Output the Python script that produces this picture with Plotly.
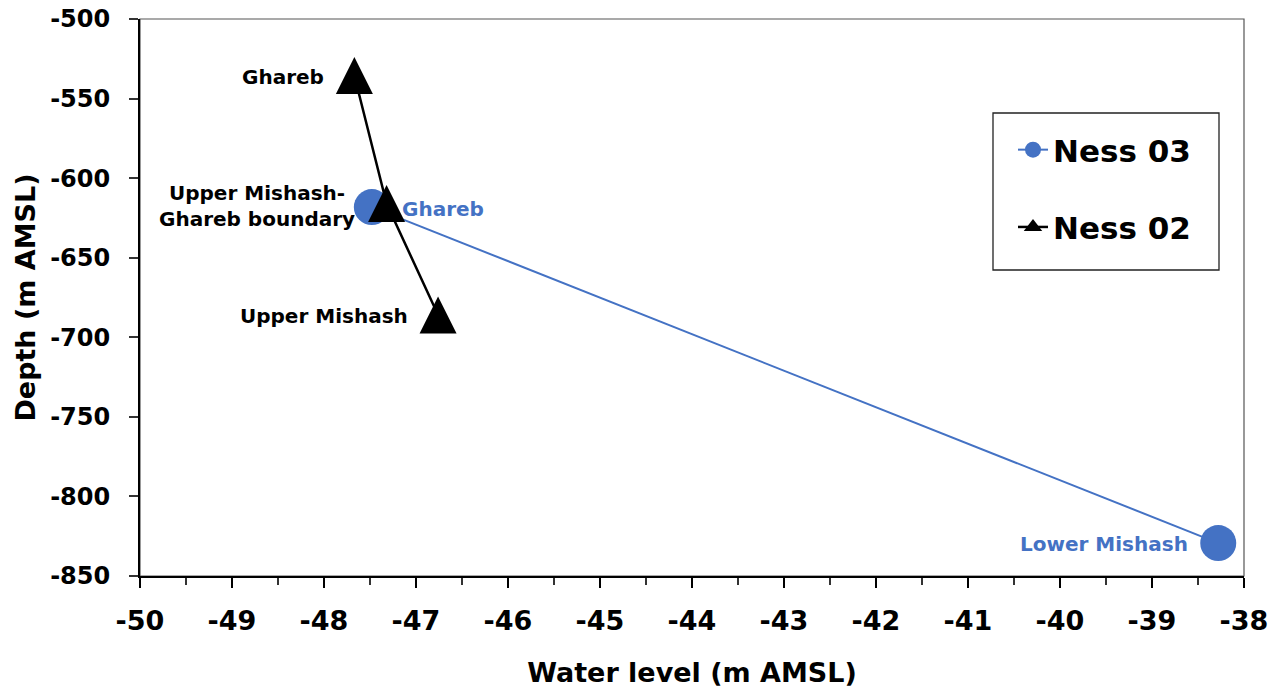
import plotly.graph_objects as go

# Ness 03 data
ness03_level = [-47.48, -38.28]
ness03_depth = [-618.2, -829.3]
ness03_labels = ["Ghareb", "Lower Mishash"]

# Ness 02 data
ness02_level = [-47.67, -47.32, -46.76]
ness02_depth = [-535.5, -616.0, -686.0]
ness02_labels = ["Ghareb", "Upper Mishash-<br>Ghareb boundary", "Upper Mishash"]

# Axis ticks
x_ticks = [-50, -49, -48, -47, -46, -45, -44, -43, -42, -41, -40, -39, -38]
x_ticktext = ["-50", "-49", "-48", "-47", "-46", "-45", "-44", "-43", "-42", "-41", "-40", "-39", "-38"]
y_ticks = [-500, -550, -600, -650, -700, -750, -800, -850]
y_ticktext = ["-500", "-550", "-600", "-650", "-700", "-750", "-800", "-850"]

BLUE = "#4472C4"
FONT = "DejaVu Sans"
TRI = 37

fig = go.Figure()
fig.add_trace(go.Scatter(
    x=ness03_level, y=ness03_depth, mode="lines+markers", name="Ness 03",
    line=dict(color=BLUE, width=2, backoff=0),
    marker=dict(symbol="circle", size=36, color=BLUE),
    legendgroup="a",
))
fig.add_trace(go.Scatter(
    x=ness02_level, y=ness02_depth, mode="lines+markers", name="Ness 02",
    line=dict(color="black", width=2.5, backoff=0),
    marker=dict(symbol="arrow-down", angle=180, size=TRI, color="black", standoff=TRI / 2),
    legendgroup="b", showlegend=False,
))
# legend-only entry for Ness 02 (centered triangle symbol)
fig.add_trace(go.Scatter(
    x=[None], y=[None], mode="lines+markers", name="Ness 02",
    line=dict(color="black", width=2.5),
    marker=dict(symbol="triangle-up", size=16, color="black"),
    legendgroup="b", hoverinfo="skip",
))

annots = []
# Ness 03 labels
annots.append(dict(x=ness03_level[0], y=ness03_depth[0], text=ness03_labels[0],
                   xanchor="left", yanchor="middle", xshift=28, yshift=-2,
                   font=dict(color=BLUE)))
annots.append(dict(x=ness03_level[1], y=ness03_depth[1], text=ness03_labels[1],
                   xanchor="right", yanchor="middle", xshift=-28, yshift=-1,
                   font=dict(color=BLUE)))
# Ness 02 labels
annots.append(dict(x=ness02_level[0], y=ness02_depth[0], text=ness02_labels[0],
                   xanchor="right", yanchor="middle", xshift=-28, yshift=-1,
                   font=dict(color="black")))
annots.append(dict(x=ness02_level[1], y=ness02_depth[1], text=ness02_labels[1],
                   xanchor="right", yanchor="middle", xshift=-30, yshift=-2,
                   align="center", font=dict(color="black")))
annots.append(dict(x=ness02_level[2], y=ness02_depth[2], text=ness02_labels[2],
                   xanchor="right", yanchor="middle", xshift=-28, yshift=-1,
                   font=dict(color="black")))
for a in annots:
    a.update(xref="x", yref="y", showarrow=False)
    a["font"].update(family=FONT, size=20, weight="bold")

L, R, T, B = 140, 34, 19, 115
W, H = 1278, 691
pw, ph = W - L - R, H - T - B

def px_to_paper_x(px):
    return (px - L) / pw

def px_to_paper_y(py):
    return (H - B - py) / ph

fig.update_layout(
    width=W, height=H,
    margin=dict(l=L, r=R, t=T, b=B, autoexpand=False),
    paper_bgcolor="white", plot_bgcolor="white",
    font=dict(family=FONT, color="black", weight="bold"),
    showlegend=True,
    legend=dict(
        x=px_to_paper_x(1013), y=px_to_paper_y(123), xanchor="left", yanchor="top",
        bgcolor="rgba(0,0,0,0)", borderwidth=0,
        font=dict(family=FONT, size=31, weight="bold", color="black"),
        tracegroupgap=34, itemwidth=30,
    ),
    annotations=annots,
    shapes=[
        dict(type="rect", xref="x domain", yref="y domain", x0=0, x1=1, y0=0, y1=1,
             line=dict(color="#555555", width=1.2), layer="below"),
        dict(type="rect", xref="paper", yref="paper",
             x0=px_to_paper_x(993), x1=px_to_paper_x(1219),
             y0=px_to_paper_y(270), y1=px_to_paper_y(113),
             line=dict(color="#222222", width=1.3), layer="above"),
    ],
    xaxis=dict(
        range=[-50, -38], tickvals=x_ticks, ticktext=x_ticktext,
        showgrid=False, zeroline=False,
        showline=True, linecolor="black", linewidth=2,
        ticks="outside", ticklen=10, tickwidth=2, tickcolor="black",
        tickfont=dict(family=FONT, size=27, weight="bold"),
        ticklabelstandoff=10,
        minor=dict(dtick=0.5, tick0=-50, ticks="outside", ticklen=7, tickwidth=1.5, tickcolor="#333", showgrid=False),
        title=dict(text="Water level (m AMSL)", font=dict(family=FONT, size=27, weight="bold"), standoff=28),
        automargin=False,
    ),
    yaxis=dict(
        range=[-850, -500], tickvals=y_ticks, ticktext=y_ticktext,
        showgrid=False, zeroline=False,
        showline=True, linecolor="black", linewidth=2,
        ticks="outside", ticklen=9, tickwidth=1.5, tickcolor="#333",
        tickfont=dict(family=FONT, size=24, weight="bold"),
        ticklabelstandoff=14,
        title=dict(text="Depth (m AMSL)", font=dict(family=FONT, size=27, weight="bold"), standoff=7),
        automargin=False,
    ),
)

fig.write_html("out.html")
